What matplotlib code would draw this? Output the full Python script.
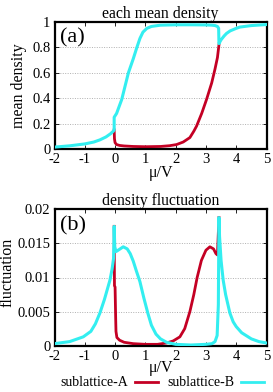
import matplotlib
matplotlib.use("Agg")
import matplotlib.pyplot as plt
from matplotlib.lines import Line2D

plt.rcParams['font.family'] = ['Liberation Serif', 'DejaVu Serif']
plt.rcParams['mathtext.fontset'] = 'stix'

# ---------------- data ----------------
# panel (a): mean density
muB_a = [-2, -1.5, -1.0, -0.7, -0.5, -0.3, -0.15, -0.06, -0.03, -0.03, 0.05, 0.22, 0.44,
         0.6, 0.72, 0.82, 0.92, 1.05, 1.2, 1.5, 2.0, 2.5, 3.0, 3.2, 3.3, 3.38, 3.42, 3.43,
         3.5, 3.6, 3.68, 3.8, 4.0, 4.12, 4.5, 5.0]
rhoB_a = [0.015, 0.025, 0.04, 0.055, 0.072, 0.095, 0.12, 0.14, 0.15, 0.25, 0.28, 0.39, 0.6,
          0.71, 0.8, 0.87, 0.92, 0.95, 0.965, 0.975, 0.978, 0.978, 0.977, 0.975, 0.972, 0.965, 0.95, 0.83,
          0.86, 0.89, 0.91, 0.93, 0.95, 0.96, 0.972, 0.98]
muA_a = [-0.03, -0.02, 0.0, 0.05, 0.15, 0.3, 0.6, 1.0, 1.5, 1.8, 2.03, 2.25, 2.47,
         2.6, 2.69, 2.86, 3.02, 3.19, 3.3, 3.38, 3.43]
rhoA_a = [0.15, 0.08, 0.05, 0.035, 0.028, 0.024, 0.02, 0.018, 0.02, 0.026, 0.035, 0.055, 0.09,
          0.14, 0.18, 0.28, 0.39, 0.52, 0.63, 0.72, 0.82]

# panel (b): density fluctuation
muB_b = [-2, -1.5, -1.05, -0.8, -0.65, -0.5, -0.35, -0.17, -0.1, -0.05, -0.03, -0.01, 0.03, 0.1, 0.27,
         0.4, 0.5, 0.6, 0.7, 0.82, 0.95, 1.08, 1.2, 1.35, 1.5, 1.7, 2.0, 2.5, 3.0, 3.2, 3.3, 3.37,
         3.41, 3.43, 3.45, 3.5, 3.57, 3.65, 3.79, 3.9, 4.0, 4.18, 4.5, 4.75, 5.0]
flB_b = [0.0003, 0.0006, 0.0013, 0.0021, 0.0032, 0.0048, 0.0068, 0.0096, 0.0112, 0.0128, 0.0175, 0.0145, 0.0138, 0.014, 0.0145,
         0.0142, 0.0135, 0.0124, 0.011, 0.0094, 0.007, 0.0048, 0.003, 0.0017, 0.001, 0.0005, 0.0002, 0.0001, 0.0002, 0.0003, 0.0006, 0.0015,
         0.006, 0.0188, 0.016, 0.0125, 0.0096, 0.0075, 0.0048, 0.0035, 0.0028, 0.0019, 0.001, 0.0006, 0.0004]
muA_b = [-0.03, -0.02, 0.0, 0.02, 0.03, 0.06, 0.15, 0.3, 0.6, 1.0, 1.4, 1.7, 1.92, 2.14, 2.3,
         2.47, 2.6, 2.71, 2.85, 3.0, 3.13, 3.25, 3.33, 3.38, 3.43]
flA_b = [0.0175, 0.0088, 0.0086, 0.004, 0.0021, 0.0012, 0.0008, 0.0005, 0.0003, 0.0002, 0.0002, 0.0004, 0.0007, 0.0013, 0.0025,
         0.005, 0.0075, 0.01, 0.0125, 0.014, 0.0145, 0.0142, 0.0135, 0.0133, 0.0188]

xticks = [-2, -1, 0, 1, 2, 3, 4, 5]
yticks_a = [0, 0.2, 0.4, 0.6, 0.8, 1]
yticklabels_a = ['0', '0.2', '0.4', '0.6', '0.8', '1']
yticks_b = [0, 0.005, 0.01, 0.015, 0.02]
yticklabels_b = ['0', '0.005', '0.01', '0.015', '0.02']

RED = '#c40024'
CYAN = '#33eef0'

fig = plt.figure(figsize=(2.73, 3.92), dpi=100)
W, H = 273, 392

def make_ax(top_px, bot_px):
    return fig.add_axes([54.5 / W, 1 - bot_px / H, 212 / W, (bot_px - top_px) / H])

ax1 = make_ax(22, 149)
ax2 = make_ax(209.3, 345.7)

for ax, yt, ytl in [(ax1, yticks_a, yticklabels_a), (ax2, yticks_b, yticklabels_b)]:
    ax.set_xlim(-2, 5)
    ax.set_xticks(xticks)
    ax.set_xticklabels([str(t) for t in xticks])
    ax.set_yticks(yt)
    ax.set_yticklabels(ytl)
    ax.tick_params(direction='in', length=3, width=0.6, top=True, right=True,
                   labelsize=10.5, pad=3)
    for s in ax.spines.values():
        s.set_linewidth(1.6)
    for y in yt[1:-1]:
        ax.axhline(y, color='#b0b0b0', lw=0.7, ls=(0, (1, 1.5)), zorder=0)

ax1.set_ylim(0, 1)
ax2.set_ylim(0, 0.02)

ax1.plot(muA_a, rhoA_a, color=RED, lw=2.0, zorder=2)
ax1.plot(muB_a, rhoB_a, color=CYAN, lw=2.2, zorder=3)
ax2.plot(muA_b, flA_b, color=RED, lw=2.0, zorder=2)
ax2.plot(muB_b, flB_b, color=CYAN, lw=2.2, zorder=3)

ax1.set_title('each mean density', fontsize=11.3, pad=3)
ax2.set_title('density fluctuation', fontsize=11.3, pad=3)
ax1.set_ylabel('mean density', fontsize=11.5)
ax2.set_ylabel('fluctuation', fontsize=11.5)
ax1.yaxis.set_label_coords((27 - 54.5) / 212, 0.5)
ax2.yaxis.set_label_coords((15.5 - 54.5) / 212, 0.54)
ax1.set_xlabel('μ/V', fontsize=11.5, labelpad=-1)
ax2.set_xlabel('μ/V', fontsize=11.5, labelpad=-2)

ax1.text(0.025, 0.95, '(a)', transform=ax1.transAxes, fontsize=16, va='top', ha='left')
ax2.text(0.025, 0.95, '(b)', transform=ax2.transAxes, fontsize=16, va='top', ha='left')

handles = [Line2D([], [], color=RED, lw=2.0), Line2D([], [], color=CYAN, lw=2.0)]
fig.legend(handles, ['sublattice-A', 'sublattice-B'], loc='center',
           bbox_to_anchor=(162 / W, 1 - 383 / H), ncol=2, frameon=False,
           markerfirst=False, fontsize=10, handlelength=1.65, handletextpad=0.5,
           columnspacing=0.65, borderpad=0, borderaxespad=0)

fig.savefig('out.png', dpi=100)
